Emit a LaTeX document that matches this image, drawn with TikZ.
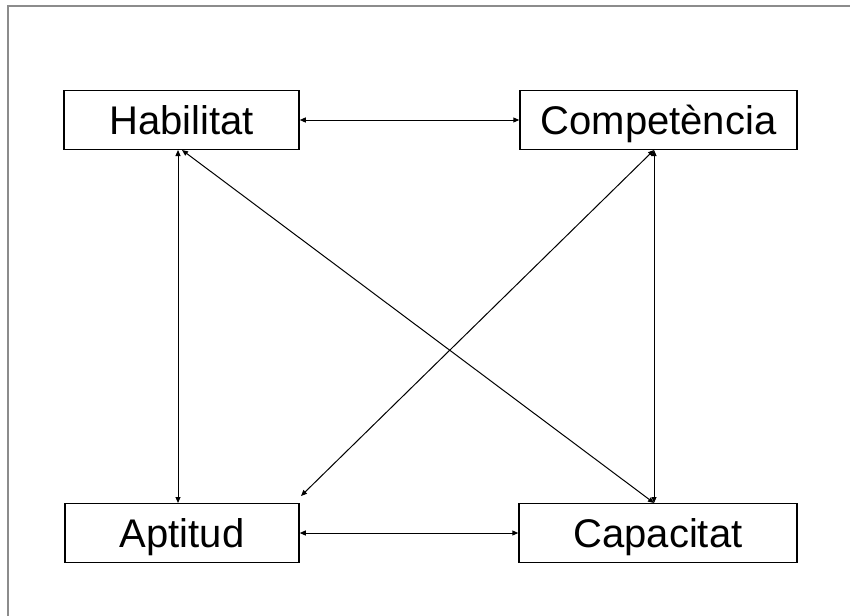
\documentclass[tikz,border=0pt]{standalone}
\usepackage{fontspec}
\setmainfont{Liberation Sans}
\usetikzlibrary{arrows.meta}
\begin{document}
\begin{tikzpicture}[x=1pt,y=-1pt,
  concept/.style={draw=black,line width=1.5pt,fill=white,inner sep=0pt,
    text height=29pt,text depth=0pt,
    minimum height=59pt,font=\fontsize{40}{44}\selectfont},
  link/.style={line width=1pt,{Triangle[length=6pt,width=5pt]}-{Triangle[length=6pt,width=5pt]}}]
  \useasboundingbox (0,0) rectangle (850,615);
  % outer frame, running off the right and bottom edges
  \draw[gray!90,line width=2pt] (7.5,700) -- (7.5,6.5) -- (900,6.5);
  % concepts
  \node[concept,minimum width=235pt] (hab) at (181.5,120) {Habilitat};
  \node[concept,minimum width=277pt] (com) at (658.5,120) {Competència};
  \node[concept,minimum width=234pt] (apt) at (182,533) {Aptitud};
  \node[concept,minimum width=278pt] (cap) at (658,533) {Capacitat};
  % anchor points on the box edges
  \coordinate (habB) at (178,150);
  \coordinate (habD) at (182,150);
  \coordinate (comB) at (654,150);
  \coordinate (aptT) at (178,503);
  \coordinate (aptC) at (301,496);
  \coordinate (capT) at (654,503);
  % relations
  \draw[link] (hab.east) -- (com.west);
  \draw[link] (apt.east) -- (cap.west);
  \draw[link] (habB) -- (aptT);
  \draw[link] (comB) -- (capT);
  \draw[link] (habD) -- (capT);
  \draw[link] (comB) -- (aptC);
\end{tikzpicture}
\end{document}
